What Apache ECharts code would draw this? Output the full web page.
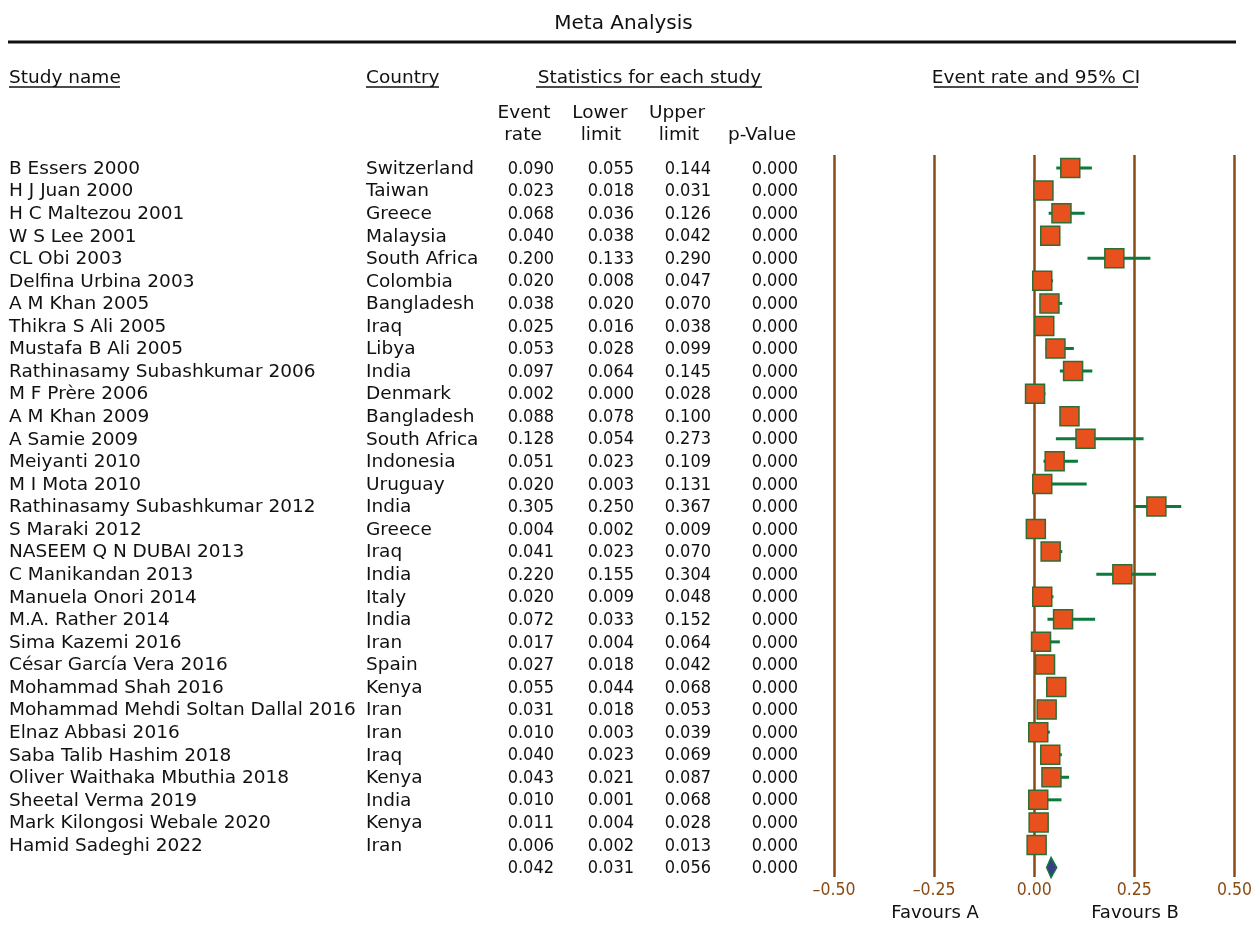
<!DOCTYPE html>
<html>
<head>
<meta charset="utf-8">
<title>Meta Analysis</title>
<script src="https://cdn.jsdelivr.net/npm/echarts@6/dist/echarts.min.js"></script>
<style>
  html, body { margin: 0; padding: 0; background: #fff; }
  #chart { width: 1255px; height: 947px; }
</style>
</head>
<body>
<div id="chart"></div>
<script>
// Study rows of the forest plot
const studies = [
  'B Essers 2000', 'H J Juan 2000', 'H C Maltezou 2001', 'W S Lee 2001', 'CL Obi 2003',
  'Delfina Urbina 2003', 'A M Khan 2005', 'Thikra S Ali 2005', 'Mustafa B Ali 2005',
  'Rathinasamy Subashkumar 2006', 'M F Prère 2006', 'A M Khan 2009', 'A Samie 2009',
  'Meiyanti 2010', 'M I Mota 2010', 'Rathinasamy Subashkumar 2012', 'S Maraki 2012',
  'NASEEM Q N DUBAI 2013', 'C Manikandan 2013', 'Manuela Onori 2014', 'M.A. Rather 2014',
  'Sima Kazemi 2016', 'César García Vera 2016', 'Mohammad Shah 2016',
  'Mohammad Mehdi Soltan Dallal 2016', 'Elnaz Abbasi 2016', 'Saba Talib Hashim 2018',
  'Oliver Waithaka Mbuthia 2018', 'Sheetal Verma 2019', 'Mark Kilongosi Webale 2020',
  'Hamid Sadeghi 2022'
];
const countries = [
  'Switzerland', 'Taiwan', 'Greece', 'Malaysia', 'South Africa', 'Colombia', 'Bangladesh',
  'Iraq', 'Libya', 'India', 'Denmark', 'Bangladesh', 'South Africa', 'Indonesia', 'Uruguay',
  'India', 'Greece', 'Iraq', 'India', 'Italy', 'India', 'Iran', 'Spain', 'Kenya', 'Iran',
  'Iran', 'Iraq', 'Kenya', 'India', 'Kenya', 'Iran'
];
const eventRate = [
  0.090, 0.023, 0.068, 0.040, 0.200, 0.020, 0.038, 0.025, 0.053, 0.097, 0.002, 0.088,
  0.128, 0.051, 0.020, 0.305, 0.004, 0.041, 0.220, 0.020, 0.072, 0.017, 0.027, 0.055,
  0.031, 0.010, 0.040, 0.043, 0.010, 0.011, 0.006
];
const lowerLimit = [
  0.055, 0.018, 0.036, 0.038, 0.133, 0.008, 0.020, 0.016, 0.028, 0.064, 0.000, 0.078,
  0.054, 0.023, 0.003, 0.250, 0.002, 0.023, 0.155, 0.009, 0.033, 0.004, 0.018, 0.044,
  0.018, 0.003, 0.023, 0.021, 0.001, 0.004, 0.002
];
const upperLimit = [
  0.144, 0.031, 0.126, 0.042, 0.290, 0.047, 0.070, 0.038, 0.099, 0.145, 0.028, 0.100,
  0.273, 0.109, 0.131, 0.367, 0.009, 0.070, 0.304, 0.048, 0.152, 0.064, 0.042, 0.068,
  0.053, 0.039, 0.069, 0.087, 0.068, 0.028, 0.013
];
const pValue = [
  0.000, 0.000, 0.000, 0.000, 0.000, 0.000, 0.000, 0.000, 0.000, 0.000, 0.000, 0.000,
  0.000, 0.000, 0.000, 0.000, 0.000, 0.000, 0.000, 0.000, 0.000, 0.000, 0.000, 0.000,
  0.000, 0.000, 0.000, 0.000, 0.000, 0.000, 0.000
];
// Pooled estimate
const pooled = { rate: 0.042, lower: 0.031, upper: 0.056, p: 0.000 };
const axisTicks = [-0.5, -0.25, 0, 0.25, 0.5];

const FONT = '"DejaVu Sans", sans-serif';
const NUM_FONT = '"DejaVu Sans Condensed", "DejaVu Sans", sans-serif';
const BROWN = '#8B4A12';
const FILL = '#E8501E';
const GREEN = '#0B7A3B';
const BORDER = '#2F6E33';
const DIAMOND = '#3E3A8A';

const fmt = v => v.toFixed(3);
const rowIdx = studies.map((_, i) => i);

// Table columns: [x, align]
const COLS = {
  name: [9, 'left'], country: [366, 'left'],
  rate: [554, 'right'], lower: [634, 'right'], upper: [711, 'right'], p: [798, 'right']
};
const TEXT_SIZE = 18.5;
const NUM_SIZE = 18;

function cellText(x, y, text, align, size, family) {
  return {
    type: 'text',
    style: { x, y: y + 1, text, textAlign: align, textVerticalAlign: 'middle',
      fontFamily: family || FONT, fontSize: size, fill: '#111' }
  };
}
function numText(x, y, v) {
  return cellText(x, y, fmt(v), 'right', NUM_SIZE, NUM_FONT);
}

const chart = echarts.init(document.getElementById('chart'), null, { renderer: 'canvas' });

function headText(x, y, text, align, size) {
  return {
    type: 'text', x, y,
    style: { text, textAlign: align || 'left', textVerticalAlign: 'middle',
      fontFamily: FONT, fontSize: size || TEXT_SIZE, fill: '#111' }
  };
}
function hline(x1, x2, y, w) {
  return { type: 'line', shape: { x1, y1: y, x2, y2: y }, style: { stroke: '#111', lineWidth: w } };
}

const option = {
  backgroundColor: '#fff',
  animation: false,
  grid: { left: 834, right: 19.5, top: 155, bottom: 70, containLabel: false },
  xAxis: {
    type: 'value', min: -0.5, max: 0.5, interval: 0.25,
    axisLine: { show: false }, axisTick: { show: false },
    splitLine: { show: true, lineStyle: { color: BROWN, width: 2.5 } },
    axisLabel: {
      margin: 4, color: BROWN, fontFamily: NUM_FONT, fontSize: 17.5,
      formatter: v => (v < 0 ? '\u2013' : '') + Math.abs(v).toFixed(2)
    }
  },
  yAxis: {
    type: 'value', inverse: true, min: -0.576, max: 31.42,
    show: false, splitLine: { show: false }
  },
  graphic: [
    headText(623.5, 23.5, 'Meta Analysis', 'center', 20),
    hline(8, 1236, 42, 3),
    headText(9, 78, 'Study name'), hline(9, 120, 87, 1.5),
    headText(366, 78, 'Country'), hline(366, 439, 87, 1.5),
    headText(649.5, 78, 'Statistics for each study', 'center'), hline(536, 762, 87, 1.5),
    headText(1036, 78, 'Event rate and 95% CI', 'center'), hline(934, 1138, 87, 1.5),
    headText(524, 113, 'Event', 'center'), headText(523, 135, 'rate', 'center'),
    headText(600, 113, 'Lower', 'center'), headText(601, 135, 'limit', 'center'),
    headText(677, 113, 'Upper', 'center'), headText(679, 135, 'limit', 'center'),
    headText(762, 135, 'p-Value', 'center'),
    headText(935, 913, 'Favours A', 'center', 18),
    headText(1135, 913, 'Favours B', 'center', 18)
  ],
  series: [
    {
      // table text for each study row
      type: 'custom', silent: true, clip: false,
      data: rowIdx.map(i => [0, i]),
      renderItem: (params, api) => {
        const i = api.value(1);
        const y = api.coord([0, i])[1];
        return {
          type: 'group',
          children: [
            cellText(COLS.name[0], y, studies[i], COLS.name[1], TEXT_SIZE),
            cellText(COLS.country[0], y, countries[i], COLS.country[1], TEXT_SIZE),
            numText(COLS.rate[0], y, eventRate[i]),
            numText(COLS.lower[0], y, lowerLimit[i]),
            numText(COLS.upper[0], y, upperLimit[i]),
            numText(COLS.p[0], y, pValue[i])
          ]
        };
      }
    },
    {
      // pooled summary row text
      type: 'custom', silent: true, clip: false,
      data: [[0, studies.length]],
      renderItem: (params, api) => {
        const y = api.coord([0, api.value(1)])[1];
        return {
          type: 'group',
          children: [
            numText(COLS.rate[0], y, pooled.rate),
            numText(COLS.lower[0], y, pooled.lower),
            numText(COLS.upper[0], y, pooled.upper),
            numText(COLS.p[0], y, pooled.p)
          ]
        };
      }
    },
    {
      // confidence intervals and point estimates
      type: 'custom', clip: false,
      data: rowIdx.map(i => [eventRate[i], i, lowerLimit[i], upperLimit[i]]),
      encode: { x: [0, 2, 3], y: 1 },
      renderItem: (params, api) => {
        const r = api.value(1);
        const c = api.coord([api.value(0), r]);
        const lo = api.coord([api.value(2), r]);
        const hi = api.coord([api.value(3), r]);
        const s = 19;
        return {
          type: 'group',
          children: [
            { type: 'line', shape: { x1: lo[0], y1: c[1], x2: hi[0], y2: c[1] },
              style: { stroke: GREEN, lineWidth: 3 } },
            { type: 'rect', shape: { x: c[0] - s / 2, y: c[1] - s / 2, width: s, height: s },
              style: { fill: FILL, stroke: BORDER, lineWidth: 1.5 } }
          ]
        };
      }
    },
    {
      // pooled estimate diamond
      type: 'custom', clip: false,
      data: [[pooled.rate, studies.length, pooled.lower, pooled.upper]],
      encode: { x: [0, 2, 3], y: 1 },
      renderItem: (params, api) => {
        const r = api.value(1);
        const c = api.coord([api.value(0), r]);
        const lo = api.coord([api.value(2), r]);
        const hi = api.coord([api.value(3), r]);
        const h = 10;
        return {
          type: 'polygon',
          shape: { points: [[lo[0], c[1]], [c[0], c[1] - h], [hi[0], c[1]], [c[0], c[1] + h]] },
          style: { fill: DIAMOND, stroke: GREEN, lineWidth: 1.5 }
        };
      }
    }
  ]
};

chart.setOption(option);
</script>
</body>
</html>
